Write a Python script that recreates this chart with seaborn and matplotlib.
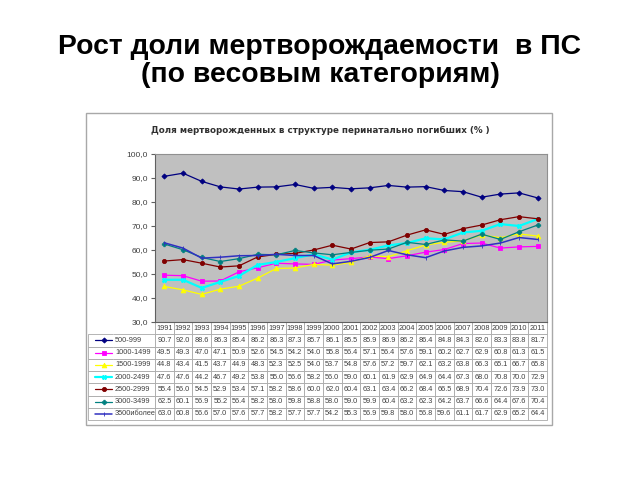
import numpy as np
import pandas as pd
import matplotlib
matplotlib.use("Agg")
import matplotlib.pyplot as plt
import seaborn as sns
from matplotlib.patches import Rectangle
from matplotlib.ticker import FuncFormatter

# ---------------- data ----------------
years = list(range(1991, 2012))
categories = ["500-999", "1000-1499", "1500-1999", "2000-2499",
              "2500-2999", "3000-3499", "3500иболее"]
v_500_999 = [90.7, 92.0, 88.6, 86.3, 85.4, 86.2, 86.3, 87.3, 85.7, 86.1, 85.5,
             85.9, 86.9, 86.2, 86.4, 84.8, 84.3, 82.0, 83.3, 83.8, 81.7]
v_1000_1499 = [49.5, 49.3, 47.0, 47.1, 50.9, 52.6, 54.5, 54.2, 54.0, 55.8, 56.4,
               57.1, 56.4, 57.6, 59.1, 60.2, 62.7, 62.9, 60.8, 61.3, 61.5]
v_1500_1999 = [44.8, 43.4, 41.5, 43.7, 44.9, 48.3, 52.3, 52.5, 54.0, 53.7, 54.8,
               57.6, 57.2, 59.7, 62.1, 63.2, 63.8, 66.3, 65.1, 66.7, 65.8]
v_2000_2499 = [47.6, 47.6, 44.2, 46.7, 49.2, 53.8, 55.0, 56.6, 58.2, 56.0, 59.0,
               60.1, 61.9, 62.9, 64.9, 64.4, 67.3, 68.0, 70.8, 70.0, 72.9]
v_2500_2999 = [55.4, 56.0, 54.5, 52.9, 53.4, 57.1, 58.2, 58.6, 60.0, 62.0, 60.4,
               63.1, 63.4, 66.2, 68.4, 66.5, 68.9, 70.4, 72.6, 73.9, 73.0]
v_3000_3499 = [62.5, 60.1, 56.9, 55.2, 56.4, 58.2, 58.0, 59.8, 58.8, 58.0, 59.0,
               59.9, 60.4, 63.2, 62.3, 64.2, 63.7, 66.6, 64.4, 67.6, 70.4]
v_3500_plus = [63.0, 60.8, 56.6, 57.0, 57.6, 57.7, 58.2, 57.7, 57.7, 54.2, 55.3,
               56.9, 59.8, 58.0, 56.8, 59.6, 61.1, 61.7, 62.9, 65.2, 64.4]
series_values = [v_500_999, v_1000_1499, v_1500_1999, v_2000_2499,
                 v_2500_2999, v_3000_3499, v_3500_plus]

main_title = "Рост доли мертворождаемости  в ПС\n(по весовым категориям)"
chart_title = "Доля мертворожденных в структуре перинатально погибших (% )"

# ---------------- styles ----------------
colors = ["#000080", "#FF00FF", "#FFFF00", "#00FFFF", "#800000", "#008080", "#3030C0"]
markers = ["D", "s", "^", "X", "o", "P", "|"]
msizes = [2.6, 3.2, 3.4, 3.2, 3.0, 3.2, 2.6]
lwidths = [0.9, 0.9, 0.9, 1.6, 0.9, 0.9, 1.1]

sns.set_style("white")
plt.rcParams["font.family"] = ["Liberation Sans", "DejaVu Sans"]

W, H = 640, 480
fig = plt.figure(figsize=(6.4, 4.8), dpi=100)

def fx(px):
    return px / W

def fy(py):
    return 1 - py / H

# main title
fig.text(0.5, fy(61), main_title, ha="center", va="center", fontsize=20.4,
         fontweight="bold", color="black", linespacing=1.12)

# chart frame
fig.patches.append(Rectangle((fx(86), fy(425)), fx(552 - 86), (425 - 113) / H,
                             transform=fig.transFigure, facecolor="white",
                             edgecolor="#A8A8A8", lw=1.0, zorder=-5))

fig.text(fx(320), fy(130), chart_title, ha="center", va="center",
         fontsize=6.3, fontweight="bold", color="#303030",
         family=["DejaVu Sans"])

# plot axes
L, R, T, B = 155, 547, 154, 322
ax = fig.add_axes([fx(L), fy(B), fx(R - L), (B - T) / H])
ax.set_zorder(2)
ax.set_facecolor("#C0C0C0")

df = pd.DataFrame({
    "year": np.tile(years, len(categories)),
    "value": np.concatenate(series_values),
    "cat": np.repeat(categories, len(years)),
})

for i, cat in enumerate(categories):
    sub = df[df["cat"] == cat]
    sns.lineplot(data=sub, x="year", y="value", ax=ax, color=colors[i],
                 marker=markers[i], markersize=msizes[i], lw=lwidths[i],
                 markeredgecolor=colors[i], markerfacecolor=colors[i],
                 markeredgewidth=0.6, legend=False, zorder=3 + i)

ax.set_xlim(1990.5, 2011.5)
ax.set_ylim(30, 100)
ax.set_yticks(np.arange(30, 101, 10))
ax.yaxis.set_major_formatter(FuncFormatter(lambda v, p: f"{v:.1f}".replace(".", ",")))
ax.set_xticks([])
ax.set_xlabel("")
ax.set_ylabel("")
ax.tick_params(axis="y", direction="out", length=3, width=0.8, color="#606060",
               labelsize=6, labelcolor="#404040", left=True, pad=2)
for side, sp in ax.spines.items():
    sp.set_color("#909090")
    sp.set_linewidth(0.8)
ax.spines["left"].set_color("#606060")
ax.spines["bottom"].set_color("#606060")

# ---------------- data table ----------------
key_w, lab_w = 113 - 88, 155 - 113
data_w = (R - L) / len(years)
col_widths = [key_w, lab_w] + [data_w] * len(years)
tot_w = sum(col_widths)
col_widths = [c / tot_w for c in col_widths]

cell_text = [["", ""] + [str(y) for y in years]]
for cat, vals in zip(categories, series_values):
    cell_text.append(["", cat] + [f"{v:.1f}" for v in vals])

tab_top, tab_bot = B, 420
bx0 = (88 - L) / (R - L)
bw = (R - 88) / (R - L)
bh = (tab_bot - tab_top) / (B - T)
table = ax.table(cellText=cell_text, colWidths=col_widths, cellLoc="center",
                 bbox=[bx0, -bh, bw, bh])
table.auto_set_font_size(False)
table.set_fontsize(5.3)
for (r, c), cell in table.get_celld().items():
    cell.set_edgecolor("#A8A8A8")
    cell.set_linewidth(0.6)
    cell.get_text().set_color("#404040")
    if r == 0 and c in (0, 1):
        cell.visible_edges = ""
    elif c == 0:
        cell.visible_edges = "BTL"
    elif c == 1:
        cell.visible_edges = "BTR"
        cell.get_text().set_ha("left")
        cell._loc = "left"
        cell.PAD = 0.05

# legend keys inside the label column
n_rows = len(categories) + 1
row_h = bh / n_rows
kx0 = (95 - L) / (R - L)
kx1 = (112 - L) / (R - L)
for i in range(len(categories)):
    yc = -row_h * (i + 1.5)
    ax.plot([kx0, kx1], [yc, yc], transform=ax.transAxes, clip_on=False,
            color=colors[i], lw=lwidths[i], zorder=10)
    ax.plot([(kx0 + kx1) / 2], [yc], transform=ax.transAxes, clip_on=False,
            color=colors[i], marker=markers[i], markersize=msizes[i],
            markeredgecolor=colors[i], markerfacecolor=colors[i],
            markeredgewidth=0.6, zorder=11)

fig.savefig("out.png", dpi=100, facecolor="white")
